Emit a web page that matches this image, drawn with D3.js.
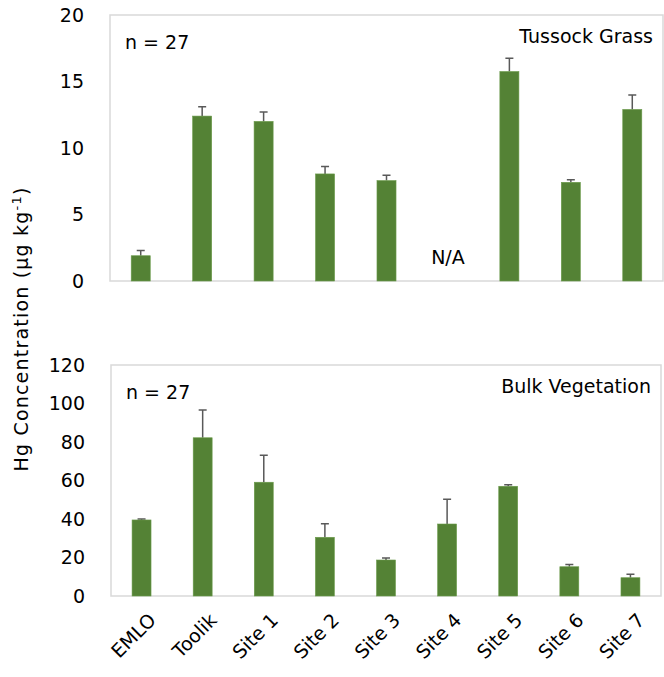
<!doctype html>
<html lang="en">
<head>
<meta charset="utf-8">
<title>Hg concentration</title>
<script src="https://cdn.jsdelivr.net/npm/d3@7"></script>
<style>
  body { margin: 0; background: #fff; }
  text { font-family: "DejaVu Sans", "Open Sans", sans-serif; fill: #000; }
  .axis text { font-size: 19px; font-family: "DejaVu Sans", sans-serif; }
  .axis path, .axis line { display: none; }
</style>
</head>
<body>
<svg id="chart" width="664" height="677"></svg>
<script>
var sites = ["EMLO", "Toolik", "Site 1", "Site 2", "Site 3", "Site 4", "Site 5", "Site 6", "Site 7"];
// null = no sample (N/A)
var tussock = [1.9, 12.4, 12.0, 8.05, 7.55, null, 15.75, 7.42, 12.9];
var tussockErr = [0.4, 0.7, 0.7, 0.55, 0.4, null, 1.0, 0.2, 1.08];
var bulk = [39.5, 82.2, 59.1, 30.5, 18.7, 37.4, 57.0, 15.2, 9.5];
var bulkErr = [0.5, 14.4, 14.0, 7.0, 1.0, 12.8, 0.8, 1.2, 1.8];
var tussockTicks = [0, 5, 10, 15, 20];
var bulkTicks = [0, 20, 40, 60, 80, 100, 120];

var svg = d3.select("#chart");

function panel(opt) {
  var x = d3.scaleBand().domain(sites).range([opt.left, opt.right]).paddingInner(0.69).paddingOuter(0.345);
  var y = d3.scaleLinear().domain([0, opt.max]).range([opt.bottom, opt.top]);
  var g = svg.append("g");

  g.append("rect")
    .attr("x", opt.left).attr("y", opt.top)
    .attr("width", opt.right - opt.left).attr("height", opt.bottom - opt.top)
    .attr("fill", "none").attr("stroke", "#d9d9d9").attr("stroke-width", 1.5);

  var rows = sites.map((s, i) => ({ site: s, v: opt.values[i], e: opt.errs[i] }));

  g.selectAll(".err").data(rows.filter(d => d.v != null)).enter().append("path")
    .attr("class", "err")
    .attr("d", d => {
      var cx = x(d.site) + x.bandwidth() / 2, y0 = y(d.v), y1 = y(d.v + d.e);
      return "M" + cx + "," + y0 + "V" + y1 + "M" + (cx - 4) + "," + y1 + "H" + (cx + 4);
    })
    .attr("stroke", "#595959").attr("stroke-width", 1.5).attr("fill", "none");

  g.selectAll(".bar").data(rows.filter(d => d.v != null)).enter().append("rect")
    .attr("class", "bar")
    .attr("x", d => x(d.site)).attr("width", x.bandwidth())
    .attr("y", d => y(d.v)).attr("height", d => y(0) - y(d.v))
    .attr("fill", "#548235").attr("stroke", "#6a9a4a").attr("stroke-width", 0.6);

  g.append("g").attr("class", "axis")
    .attr("transform", "translate(" + (opt.left - 6) + ",0)")
    .call(d3.axisLeft(y).tickValues(opt.ticks).tickSize(0).tickPadding(20));

  g.append("text").attr("x", opt.left + 15).attr("y", opt.top + 34)
    .style("font-size", "19px").text("n = 27");
  g.append("text").attr("x", opt.right - 10).attr("y", opt.top + 28)
    .attr("text-anchor", "end").style("font-size", "19px").text(opt.title);

  rows.filter(d => d.v == null).forEach(d => {
    g.append("text").attr("x", x(d.site) + x.bandwidth() / 2).attr("y", opt.bottom - 17)
      .attr("text-anchor", "middle").style("font-size", "19px").text("N/A");
  });
  return x;
}

panel({ left: 110, right: 663, top: 15, bottom: 281, max: 20, ticks: tussockTicks,
        values: tussock, errs: tussockErr, title: "Tussock Grass" });
var xb = panel({ left: 111, right: 661, top: 365, bottom: 596, max: 120, ticks: bulkTicks,
        values: bulk, errs: bulkErr, title: "Bulk Vegetation" });

svg.append("g").selectAll("text").data(sites).enter().append("text")
  .attr("transform", d => "translate(" + (xb(d) + xb.bandwidth() / 2 + 6) + ",612) rotate(-45)")
  .attr("text-anchor", "end").attr("dy", "0.7em")
  .style("font-size", "19px").text(d => d);

svg.append("text")
  .attr("transform", "translate(28,329) rotate(-90)")
  .attr("text-anchor", "middle").style("font-size", "19px").style("letter-spacing", "1.2px")
  .html('Hg Concentration  (μg kg<tspan dy="-7" font-size="13">-1</tspan><tspan dy="7">)</tspan>');
</script>
</body>
</html>
